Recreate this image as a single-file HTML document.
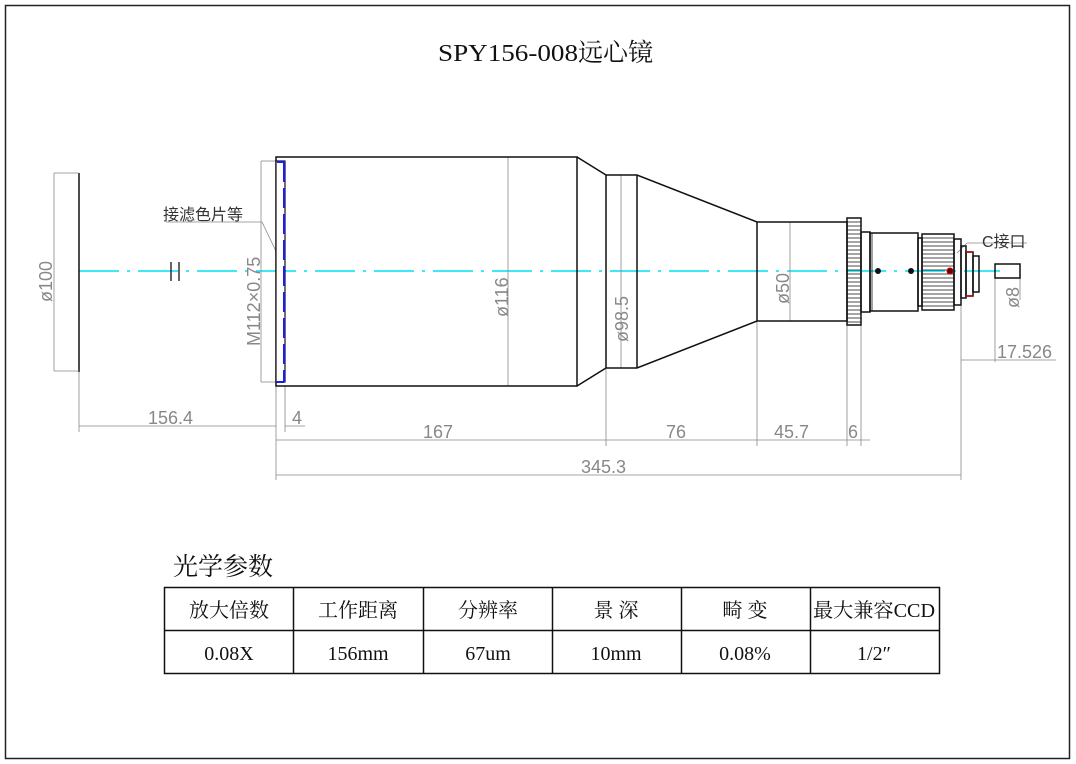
<!DOCTYPE html>
<html><head><meta charset="utf-8"><style>
html,body{margin:0;padding:0;background:#fff;}
svg{display:block;}
.d{font-family:"Liberation Sans",sans-serif;font-size:18px;fill:#888;}
.t{font-family:"Liberation Serif","Noto Serif CJK SC",serif;fill:#111;}
</style></head><body>
<svg width="1076" height="764" viewBox="0 0 1076 764" xmlns="http://www.w3.org/2000/svg">
<rect x="5.5" y="5.5" width="1064" height="753" fill="none" stroke="#222" stroke-width="1.5"/>
<text x="438" y="61" font-family="Liberation Serif,serif" font-size="24" fill="#111" textLength="140" lengthAdjust="spacingAndGlyphs">SPY156-008</text>
<text x="578" y="61" font-family="Noto Serif CJK SC,serif" font-size="25" fill="#111">远心镜</text>

<line x1="79" y1="271" x2="1000" y2="271" stroke="#00e0f0" stroke-width="1.5" stroke-dasharray="40,8,3,8"/>
<line x1="79" y1="173" x2="79" y2="372" stroke="#111" stroke-width="1.5"/>
<g stroke="#888" stroke-width="0.8" fill="none">
<line x1="54" y1="173" x2="79" y2="173"/><line x1="54" y1="371" x2="79" y2="371"/>
<line x1="54" y1="173" x2="54" y2="371"/>
<line x1="79" y1="372" x2="79" y2="432"/>
<line x1="276" y1="386" x2="276" y2="480"/>
<line x1="285" y1="386" x2="285" y2="432"/>
<line x1="79" y1="426" x2="276" y2="426"/>
<line x1="285" y1="426" x2="305" y2="426"/>
<line x1="276" y1="440" x2="870" y2="440"/>
<line x1="606" y1="369" x2="606" y2="446"/>
<line x1="757" y1="321" x2="757" y2="446"/>
<line x1="847" y1="325" x2="847" y2="446"/>
<line x1="861" y1="325" x2="861" y2="446"/>
<line x1="276" y1="475" x2="961" y2="475"/>
<line x1="961" y1="298" x2="961" y2="480"/>
<line x1="961" y1="360" x2="1056" y2="360"/>
<line x1="995" y1="278" x2="995" y2="362"/>
<line x1="508" y1="157" x2="508" y2="386"/>
<line x1="621" y1="175" x2="621" y2="368"/>
<line x1="790" y1="222" x2="790" y2="321"/>
<line x1="261" y1="161" x2="261" y2="382"/>
<line x1="261" y1="161" x2="276" y2="161"/><line x1="261" y1="382" x2="276" y2="382"/>
<line x1="1020" y1="264" x2="1020" y2="300"/>
<line x1="166" y1="222" x2="262" y2="222"/>
<line x1="262" y1="222" x2="285" y2="270"/>
<line x1="957" y1="253" x2="967" y2="243"/><line x1="967" y1="243" x2="1027" y2="243"/>
</g>
<text class="d" transform="translate(52,302) rotate(-90)">ø100</text>
<text class="d" transform="translate(260,346) rotate(-90)">M112×0.75</text>
<text class="d" transform="translate(508,317) rotate(-90)">ø116</text>
<text class="d" transform="translate(628,342) rotate(-90)">ø98.5</text>
<text class="d" transform="translate(789,304) rotate(-90)">ø50</text>
<text class="d" transform="translate(1019,308) rotate(-90)">ø8</text>
<text class="d" x="148" y="424">156.4</text>
<text class="d" x="292" y="424">4</text>
<text class="d" x="423" y="438">167</text>
<text class="d" x="666" y="438">76</text>
<text class="d" x="774" y="438">45.7</text>
<text class="d" x="848" y="438">6</text>
<text class="d" x="581" y="473">345.3</text>
<text class="d" x="997" y="358">17.526</text>
<text x="163" y="220" font-family="Noto Sans CJK SC,sans-serif" font-size="16" fill="#333">接滤色片等</text>
<text x="982" y="247" font-family="Liberation Sans,Noto Sans CJK SC,sans-serif" font-size="16" fill="#333">C接口</text>
<line x1="171" y1="262" x2="171" y2="281" stroke="#333" stroke-width="1.5"/>
<line x1="179" y1="262" x2="179" y2="281" stroke="#333" stroke-width="1.5"/>

<g stroke="#111" stroke-width="1.5" fill="none">
<rect x="276" y="157" width="301" height="229"/>
<polyline points="577,157 606,175 637,175 757,222 847,222 847,321 757,321 637,368 606,368 577,386"/>
<line x1="606" y1="175" x2="606" y2="368"/>
<line x1="637" y1="175" x2="637" y2="368"/>
<line x1="757" y1="222" x2="757" y2="321"/>
<rect x="847" y="218" width="14" height="107"/>
<rect x="861" y="232" width="9" height="80"/>
<rect x="870" y="233" width="48" height="78"/>
<rect x="918" y="238" width="4" height="68"/>
<rect x="922" y="234" width="32" height="76"/>
<rect x="954" y="239" width="7" height="66"/>
<rect x="961" y="246" width="5" height="52"/>
<rect x="966" y="252" width="7" height="44"/>
<rect x="973" y="256" width="6" height="36"/>
<rect x="995" y="264" width="25" height="14"/>
</g>
<line x1="966" y1="252" x2="973" y2="252" stroke="#c00" stroke-width="1.5"/>
<line x1="966" y1="296" x2="973" y2="296" stroke="#c00" stroke-width="1.5"/>
<g stroke="#111" stroke-width="0.8">
<path d="M847 222h14M847 226h14M847 230h14M847 234h14M847 238h14M847 242h14M847 246h14M847 250h14M847 254h14M847 258h14M847 262h14M847 266h14M847 270h14M847 274h14M847 278h14M847 282h14M847 286h14M847 290h14M847 294h14M847 298h14M847 302h14M847 306h14M847 310h14M847 314h14M847 318h14M847 322h14"/>
<path d="M922 238h32M922 242h32M922 246h32M922 250h32M922 254h32M922 258h32M922 262h32M922 266h32M922 270h32M922 274h32M922 278h32M922 282h32M922 286h32M922 290h32M922 294h32M922 298h32M922 302h32M922 306h32"/>
<line x1="872" y1="233" x2="872" y2="311"/>
</g>
<rect x="276" y="161" width="9" height="221" fill="#fff" stroke="#111" stroke-width="1.2"/>
<line x1="284" y1="162" x2="284" y2="382" stroke="#1a1aff" stroke-width="2" stroke-dasharray="20,6"/>
<line x1="277" y1="162" x2="284" y2="162" stroke="#1a1aff" stroke-width="2"/>
<line x1="277" y1="382" x2="284" y2="382" stroke="#1a1aff" stroke-width="2"/>
<circle cx="878" cy="271" r="3" fill="#111"/>
<circle cx="911" cy="271" r="3" fill="#111"/>
<circle cx="950" cy="271" r="3" fill="#600" stroke="#c00"/>

<text x="173" y="575" font-family="Noto Serif CJK SC,serif" font-size="25" fill="#111">光学参数</text>
<g stroke="#111" stroke-width="1.5" fill="none">
<rect x="164.5" y="587.5" width="775" height="86"/>
<line x1="164" y1="630.5" x2="940" y2="630.5"/>
<line x1="293.5" y1="587" x2="293.5" y2="674"/>
<line x1="423.5" y1="587" x2="423.5" y2="674"/>
<line x1="552.5" y1="587" x2="552.5" y2="674"/>
<line x1="681.5" y1="587" x2="681.5" y2="674"/>
<line x1="810.5" y1="587" x2="810.5" y2="674"/>
</g>
<g class="t" font-size="20" text-anchor="middle">
<text x="229" y="617">放大倍数</text>
<text x="358" y="617">工作距离</text>
<text x="488" y="617">分辨率</text>
<text x="616" y="617">景 深</text>
<text x="745" y="617">畸 变</text>
<text x="874" y="617" textLength="122" lengthAdjust="spacingAndGlyphs">最大兼容CCD</text>
<text x="229" y="660">0.08X</text>
<text x="358" y="660">156mm</text>
<text x="488" y="660">67um</text>
<text x="616" y="660">10mm</text>
<text x="745" y="660">0.08%</text>
<text x="874" y="660">1/2″</text>
</g>
</svg>
</body></html>
